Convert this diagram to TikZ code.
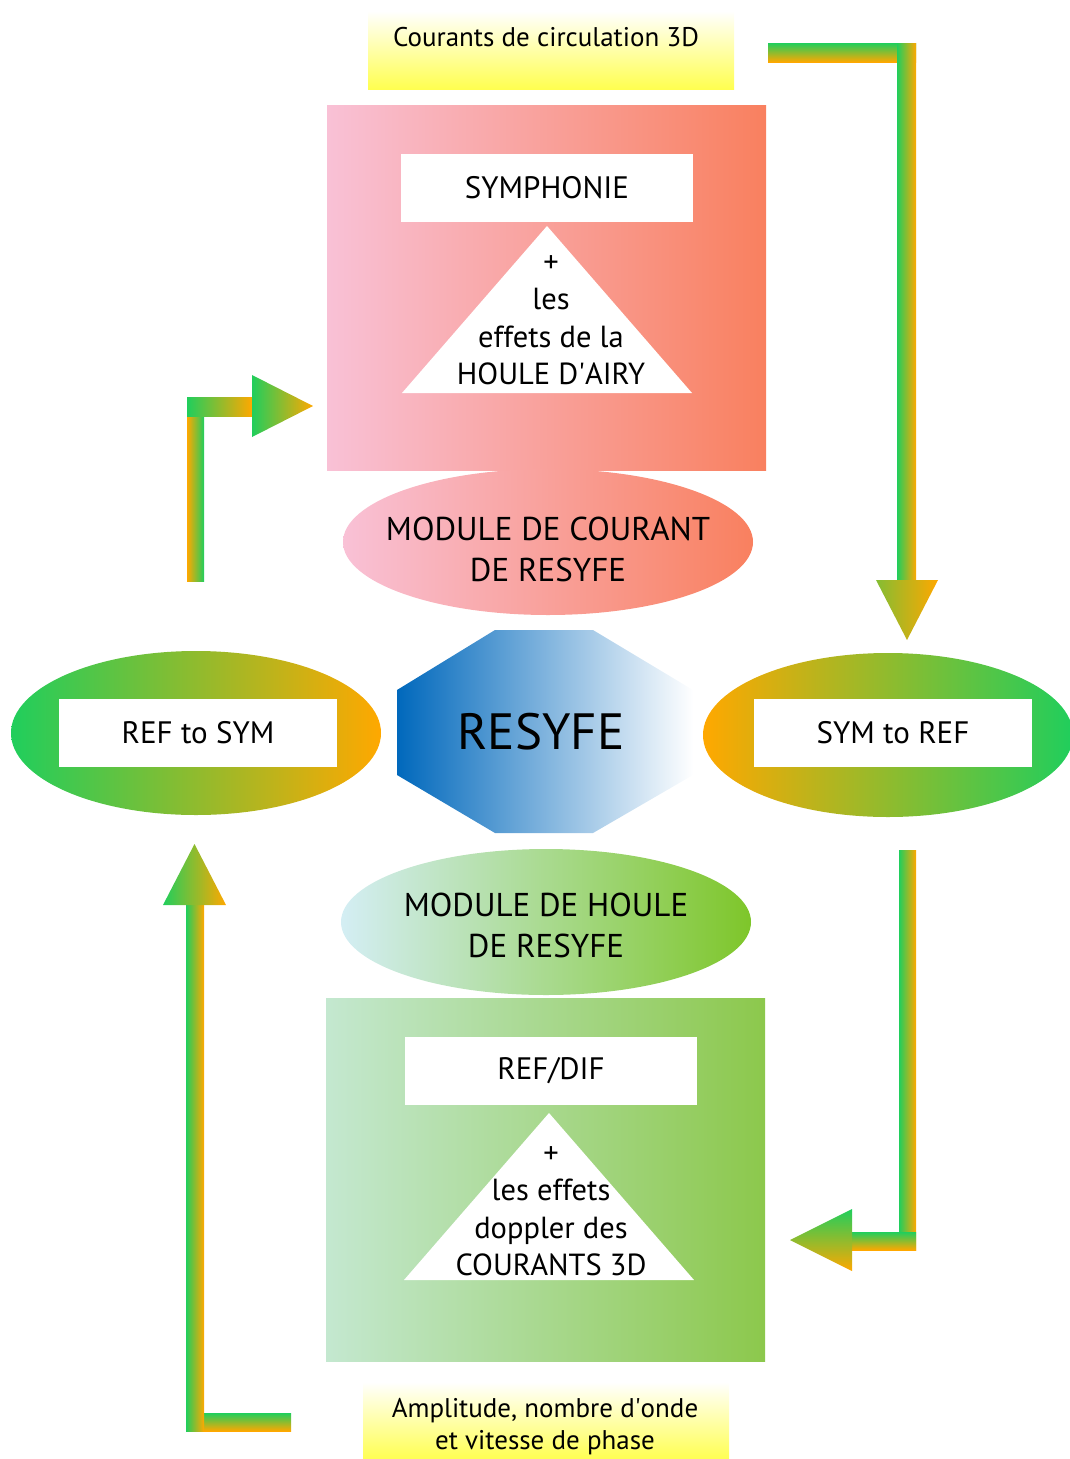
\documentclass[tikz,border=0pt]{standalone}
\usepackage{fontspec}
\setmainfont{PT Sans}
\usetikzlibrary{positioning, shapes.geometric}
\definecolor{mygreen}{HTML}{20CE5C}
\definecolor{myorange}{HTML}{FFA800}
\definecolor{mypink}{HTML}{F9C1D6}
\definecolor{mysalmon}{HTML}{F9805F}
\definecolor{mylightgreen}{HTML}{C4E8D0}
\definecolor{mygrass}{HTML}{8CC84C}
\definecolor{mycyan}{HTML}{D4EEF4}
\definecolor{mylime}{HTML}{7EC62A}
\definecolor{myblue}{HTML}{0068BC}
\definecolor{myyellow}{HTML}{FFFF50}
\tikzset{
	whitebox/.style={
			draw=none,
			fill=white,
			minimum width=292pt,
			minimum height=68pt,
			inner sep=0pt,
			font=\fontsize{31}{35}\selectfont
		},
	modnode/.style={
			ellipse,
			draw=none,
			minimum width=410pt,
			minimum height=146pt,
			inner sep=0pt
		},
	modtext/.style={
			align=center,
			inner sep=0pt,
			font=\fontsize{33}{41}\selectfont
		},
	convnode/.style={
			ellipse,
			draw=none,
			minimum width=370pt,
			minimum height=164pt,
			inner sep=0pt
		},
	bignode/.style={
			draw=none,
			minimum width=439pt,
			minimum height=365pt,
			inner sep=0pt
		},
	notenode/.style={
			draw=none,
			top color=white,
			bottom color=myyellow,
			minimum width=366pt,
			minimum height=78pt,
			inner sep=0pt
		},
	notetext/.style={
			align=center,
			inner sep=0pt,
			font=\fontsize{27}{32}\selectfont
		},
	tritext/.style={
			align=center,
			inner sep=0pt,
			font=\fontsize{30.5}{37.5}\selectfont
		}
}

\begin{document}
\begin{tikzpicture}[x=1pt, y=-1pt]
\useasboundingbox (0,0) rectangle (1070,1459);

% input notes
\node[notenode] (top) at (551,50) {};
\node[notetext] (toplbl) at (546,37) {Courants de circulation 3D};
\node[notenode] (bottom) at (546,1421) {};
\node[notetext] (bottomlbl) at (545,1427) {Amplitude, nombre d\textquotesingle onde\\et vitesse de phase};

% current module
\node[bignode, left color=mypink, right color=mysalmon] (symbox) at (546.5,287.5) {};
\node[whitebox] (sym) at (547,188) {SYMPHONIE};
\path[fill=white] (547,226) -- (692,393) -- (402,393) -- cycle;
\node[tritext] (airy) at (551,320) {+\\les\\effets de la\\HOULE D\textquotesingle AIRY};
\node[modnode, left color=mypink, right color=mysalmon] (courant) at (548,542) {};
\node[modtext] (courantlbl) at (548,549) {MODULE DE COURANT\\DE RESYFE};

% core
\path[left color=myblue, right color=white] (495,630) -- (593,630) -- (693,690) -- (693,775)
  -- (593,833) -- (495,833) -- (397,775) -- (397,690) -- cycle;
\node[font=\fontsize{51}{60}\selectfont] (resyfe) at (541,732) {RESYFE};

% converters
\node[convnode, left color=mygreen, right color=myorange] (refsym) at (196,733) {};
\node[whitebox, minimum width=278pt] (refsymlbl) at (198,732.5) {REF to SYM};
\node[convnode, left color=myorange, right color=mygreen] (symref) at (888,735) {};
\node[whitebox, minimum width=278pt] (symreflbl) at (893,732.5) {SYM to REF};

% wave module
\node[modnode, left color=mycyan, right color=mylime] (houle) at (546,922) {};
\node[modtext] (houlelbl) at (546,925) {MODULE DE HOULE\\DE RESYFE};
\node[bignode, minimum height=363pt, left color=mylightgreen, right color=mygrass] (difbox) at (545.5,1179.5) {};
\node[whitebox] (dif) at (551,1071) {REF/DIF};
\path[fill=white] (549,1113) -- (694,1280) -- (404,1280) -- cycle;
\node[tritext] (doppler) at (551,1211) {+\\les effets\\doppler des\\COURANTS 3D};

% arrow top right
\path[top color=mygreen, bottom color=myorange] (768,43) rectangle (916,62);
\path[left color=mygreen, right color=myorange] (897,43) rectangle (916,581);
\path[left color=mygreen!55!myorange, right color=myorange] (876,580) -- (938,580) -- (907,640) -- cycle;

% arrow bottom right
\path[left color=mygreen, right color=myorange] (899,850) rectangle (916,1250);
\path[top color=mygreen, bottom color=myorange] (852,1232) rectangle (916,1250);
\path[top color=mygreen, bottom color=myorange] (852,1209) -- (852,1271) -- (790,1240) -- cycle;

% arrow bottom left
\path[top color=mygreen, bottom color=myorange] (204,1413) rectangle (291,1431);
\path[left color=mygreen, right color=myorange] (186,905) rectangle (204,1431);
\path[left color=mygreen, right color=myorange] (163,905) -- (226,905) -- (194.5,844) -- cycle;

% arrow top left
\path[left color=myorange, right color=mygreen] (187,416) rectangle (204,581);
\path[left color=mygreen, right color=myorange] (187,397) rectangle (252,416);
\path[left color=mygreen, right color=myorange] (252,375) -- (313,406) -- (252,437) -- cycle;
\end{tikzpicture}
\end{document}
